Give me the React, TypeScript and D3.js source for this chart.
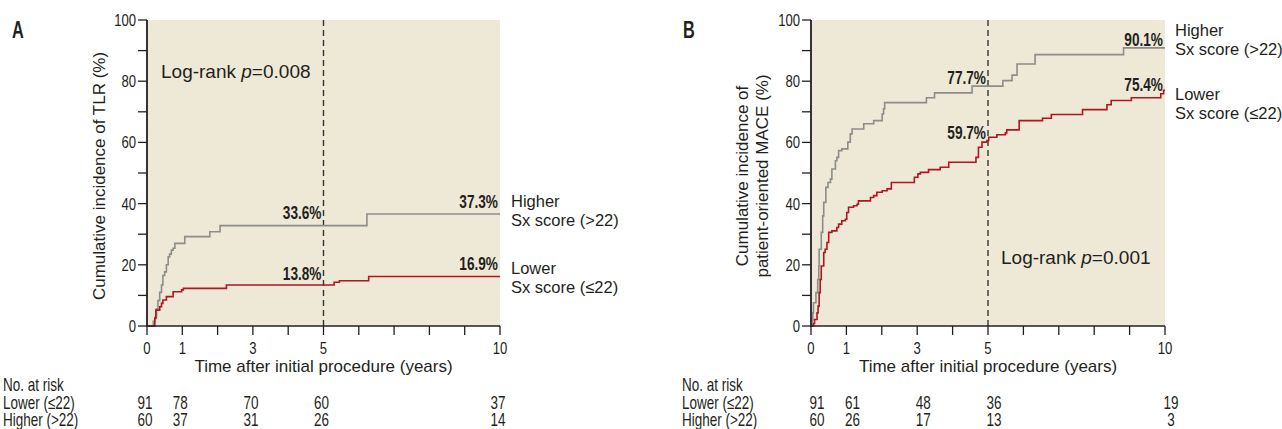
import React from 'react';
import * as d3 from 'd3';

// axis ticks
const years = d3.range(0, 11);
const yearLabels = [0, 1, 3, 5, 10];
const pctTicks = d3.range(0, 101, 10);
const pctLabels = [0, 20, 40, 60, 80, 100];
const riskYears = [0, 1, 3, 5, 10];
const markYears = [5, 10];
const groupRows = ['Lower (≤22)', 'Higher (>22)'];

// panel A: TLR, step events [year, cumulative %]
const tlrHigher: [number, number][] = [
  [0, 0], [0.18, 1.5], [0.22, 2.8], [0.27, 5.6], [0.31, 8.3], [0.36, 11.0],
  [0.41, 13.4], [0.45, 16.5], [0.5, 17.7], [0.55, 20.0], [0.6, 22.6], [0.64, 23.5],
  [0.69, 24.8], [0.74, 25.4], [0.79, 27.0], [1.07, 29.2], [1.78, 30.8], [2.07, 32.8],
  [6.23, 36.6], [10, 36.6],
];
const tlrLower: [number, number][] = [
  [0, 0], [0.22, 2.5], [0.25, 5.2], [0.36, 6.3], [0.41, 7.4], [0.45, 8.5], [0.55, 9.6],
  [0.74, 11.2], [0.98, 11.8], [1.03, 12.3], [2.25, 13.4], [5.3, 14.3], [5.45, 14.8],
  [6.28, 16.2], [10, 16.2],
];
const tlrHigherPct = [33.6, 37.3];
const tlrLowerPct = [13.8, 16.9];
const tlrRiskLower = [91, 78, 70, 60, 37];
const tlrRiskHigher = [60, 37, 31, 26, 14];

// panel B: patient-oriented MACE
const maceHigher: [number, number][] = [
  [0, 0], [0.03, 2.0], [0.05, 4.3], [0.07, 7.6], [0.14, 10.9], [0.19, 15.2], [0.22, 19.6],
  [0.23, 25.1], [0.29, 30.6], [0.33, 36.0], [0.36, 40.4], [0.42, 45.3], [0.48, 46.9],
  [0.55, 48.0], [0.59, 51.3], [0.69, 54.0], [0.73, 55.1], [0.78, 57.3], [0.87, 57.9],
  [1.04, 60.1], [1.11, 62.8], [1.16, 64.4], [1.49, 66.1], [1.77, 67.1], [2.01, 69.3],
  [2.05, 71.0], [2.08, 73.0], [3.26, 74.6], [3.49, 76.2], [4.55, 78.4], [5.42, 80.2],
  [5.68, 82.0], [5.82, 85.6], [6.33, 88.7], [8.83, 90.9], [10, 90.9],
];
const maceLower: [number, number][] = [
  [0, 0], [0.07, 0.8], [0.1, 2.1], [0.17, 4.3], [0.2, 6.5], [0.23, 10.9], [0.26, 15.2],
  [0.29, 19.6], [0.36, 24.0], [0.4, 25.1], [0.45, 27.3], [0.5, 30.6], [0.59, 31.1],
  [0.73, 32.2], [0.78, 33.3], [0.87, 34.4], [0.97, 34.9], [1.01, 37.1], [1.06, 38.8],
  [1.2, 39.3], [1.3, 39.8], [1.34, 40.9], [1.68, 42.0], [1.77, 42.6], [1.86, 43.7],
  [2.01, 44.2], [2.15, 44.8], [2.27, 46.9], [2.92, 48.6], [3.02, 49.7], [3.09, 50.2],
  [3.32, 51.1], [3.65, 51.9], [3.89, 53.5], [4.66, 55.1], [4.73, 58.4], [4.83, 60.1],
  [4.97, 60.6], [5.02, 61.7], [5.25, 62.5], [5.49, 63.1], [5.53, 64.1], [5.88, 67.1],
  [6.54, 67.9], [6.79, 69.1], [7.67, 70.7], [8.36, 72.3], [8.48, 73.7], [9.05, 74.6],
  [9.88, 75.9], [9.96, 77.0], [10, 77.0],
];
const maceHigherPct = [77.7, 90.1];
const maceLowerPct = [59.7, 75.4];
const maceRiskLower = [91, 61, 48, 36, 19];
const maceRiskHigher = [60, 26, 17, 13, 3];

const INK = '#231f20';
const BG = '#ede9d6';
const GRAY = '#8c8c8c';
const RED = '#b3141f';
const REG = "'Liberation Sans', Arial, sans-serif";

// condensed text: Liberation Sans squeezed horizontally
function NText(props: {
  x: number;
  y: number;
  size?: number;
  sx?: number;
  anchor?: 'start' | 'middle' | 'end';
  bold?: boolean;
  children: React.ReactNode;
}) {
  const { x, y, size = 17.5, sx = 0.77, anchor = 'start', bold = false, children } = props;
  return (
    <text
      transform={`translate(${x},${y}) scale(${sx},1)`}
      textAnchor={anchor}
      fontFamily={REG}
      fontWeight={bold ? 'bold' : 'normal'}
      fontSize={size}
      fill={INK}
    >
      {children}
    </text>
  );
}

type PanelProps = {
  letter: string;
  letterX: number;
  left: number;
  right: number;
  higher: [number, number][];
  lower: [number, number][];
  higherPct: number[];
  lowerPct: number[];
  riskLower: number[];
  riskHigher: number[];
  yTitle: string[];
  titleX: number;
  pValue: string;
  pX: number;
  pY: number;
  groupX: number;
  higherY: number;
  lowerY: number;
  tableX: number;
  riskShift: number;
};

function Panel(p: PanelProps) {
  const top = 20;
  const bottom = 326;
  const x = d3.scaleLinear().domain([0, 10]).range([p.left, p.right]);
  const y = d3.scaleLinear().domain([0, 100]).range([bottom, top]);
  const step = d3
    .line<[number, number]>()
    .x((d) => x(d[0]))
    .y((d) => y(d[1]))
    .curve(d3.curveStepAfter);
  const midY = (top + bottom) / 2;

  return (
    <g>
      <NText x={p.letterX} y={38} size={24} sx={0.68} bold>
        {p.letter}
      </NText>
      <rect x={x(0)} y={top} width={x(10) - x(0)} height={bottom - top} fill={BG} />

      {/* y axis */}
      {pctTicks.map((t) => (
        <line key={t} x1={x(0) - 9} x2={x(0)} y1={y(t)} y2={y(t)} stroke={INK} strokeWidth={1.3} />
      ))}
      {pctLabels.map((t) => (
        <NText key={t} x={x(0) - 11} y={y(t) + 6} size={17} anchor="end">
          {t}
        </NText>
      ))}
      {/* x axis */}
      {years.map((t) => (
        <line key={t} x1={x(t)} x2={x(t)} y1={bottom} y2={bottom + 9} stroke={INK} strokeWidth={1.3} />
      ))}
      {yearLabels.map((t) => (
        <NText key={t} x={x(t)} y={354} size={17} anchor="middle">
          {t}
        </NText>
      ))}

      <line x1={x(5)} x2={x(5)} y1={top} y2={bottom} stroke="#333" strokeWidth={1.4} strokeDasharray="6,4" />

      <path d={step(p.higher) || ''} fill="none" stroke={GRAY} strokeWidth={1.6} />
      <path d={step(p.lower) || ''} fill="none" stroke={RED} strokeWidth={1.6} />

      <line x1={x(0)} x2={x(10)} y1={bottom} y2={bottom} stroke={INK} strokeWidth={1.6} />
      <line x1={x(0)} x2={x(0)} y1={top} y2={bottom + 1} stroke={INK} strokeWidth={1.8} />

      {markYears.map((t, i) => (
        <g key={t}>
          <NText x={x(t) - 2} y={y(p.higherPct[i]) - 4} anchor="end" size={17.5} sx={0.78} bold>
            {p.higherPct[i]}%
          </NText>
          <NText x={x(t) - 2} y={y(p.lowerPct[i]) - 4} anchor="end" size={17.5} sx={0.78} bold>
            {p.lowerPct[i]}%
          </NText>
        </g>
      ))}

      <text x={p.pX} y={p.pY} fontFamily={REG} fontSize={19} fill={INK}>
        Log-rank <tspan fontStyle="italic">p</tspan>={p.pValue}
      </text>

      <g fontFamily={REG} fontSize={16.5} fill={INK}>
        <text x={p.groupX} y={p.higherY}>Higher</text>
        <text x={p.groupX} y={p.higherY + 19}>Sx score (&gt;22)</text>
        <text x={p.groupX} y={p.lowerY}>Lower</text>
        <text x={p.groupX} y={p.lowerY + 19}>Sx score (≤22)</text>
      </g>

      {p.yTitle.map((line, i) => (
        <text
          key={line}
          transform={`translate(${p.titleX + i * 20},${midY + 3}) rotate(-90)`}
          textAnchor="middle"
          fontFamily={REG}
          fontSize={17}
          fill={INK}
        >
          {line}
        </text>
      ))}
      <text x={(x(0) + x(10)) / 2} y={372} textAnchor="middle" fontFamily={REG} fontSize={17} fill={INK}>
        Time after initial procedure (years)
      </text>

      <NText x={p.tableX} y={391}>No. at risk</NText>
      {groupRows.map((g, i) => (
        <NText key={g} x={p.tableX} y={408.5 + i * 17}>
          {g}
        </NText>
      ))}
      {riskYears.map((t, i) => (
        <g key={t}>
          <NText x={x(t) + p.riskShift} y={408.5} anchor="middle">
            {p.riskLower[i]}
          </NText>
          <NText x={x(t) + p.riskShift} y={425.5} anchor="middle">
            {p.riskHigher[i]}
          </NText>
        </g>
      ))}
    </g>
  );
}

export default function App() {
  return (
    <svg
      width={1282}
      height={429}
      viewBox="0 0 1282 429"
      style={{ position: 'absolute', left: 0, top: 0, background: '#fff' }}
    >
      <Panel
        letter="A"
        letterX={12}
        left={147}
        right={500}
        higher={tlrHigher}
        lower={tlrLower}
        higherPct={tlrHigherPct}
        lowerPct={tlrLowerPct}
        riskLower={tlrRiskLower}
        riskHigher={tlrRiskHigher}
        yTitle={['Cumulative incidence of TLR (%)']}
        titleX={105}
        pValue="0.008"
        pX={161}
        pY={78}
        groupX={511}
        higherY={207}
        lowerY={274}
        tableX={3}
        riskShift={-2}
      />
      <Panel
        letter="B"
        letterX={683}
        left={811}
        right={1165}
        higher={maceHigher}
        lower={maceLower}
        higherPct={maceHigherPct}
        lowerPct={maceLowerPct}
        riskLower={maceRiskLower}
        riskHigher={maceRiskHigher}
        yTitle={['Cumulative incidence of', 'patient-oriented MACE (%)']}
        titleX={748}
        pValue="0.001"
        pX={1001}
        pY={264}
        groupX={1175}
        higherY={36}
        lowerY={100}
        tableX={682}
        riskShift={6}
      />
    </svg>
  );
}
